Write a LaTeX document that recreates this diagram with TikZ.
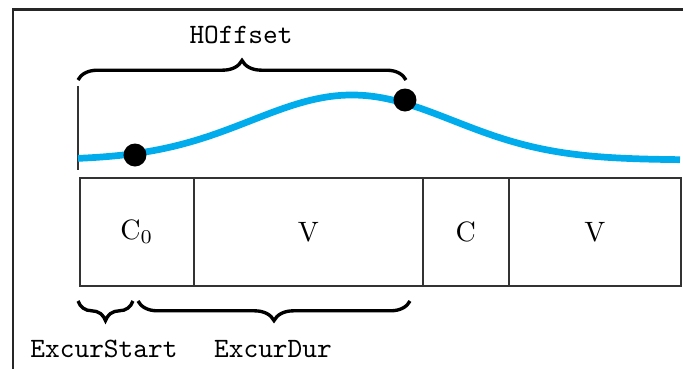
\documentclass[tikz,border=0pt]{standalone}
\usetikzlibrary{decorations.pathreplacing}
\definecolor{wavecol}{RGB}{0,172,236}
\begin{document}
\begin{tikzpicture}[x=0.357pt,y=-0.357pt,
  cell/.style={draw=black!80, line width=0.55pt, minimum height=108*0.357pt, anchor=north west, inner sep=0pt},
  lab/.style={font=\ttfamily, inner sep=0pt},
  brc/.style={decorate, decoration={brace, amplitude=7pt}, line width=1.2pt},
  brcm/.style={decorate, decoration={brace, amplitude=7pt, mirror}, line width=1.2pt},
  dot/.style={circle, fill=black, minimum size=23*0.357pt, inner sep=0pt},
  wave/.style={line width=2.4pt, color=wavecol}]
\useasboundingbox (0,0) rectangle (683,369);
% frame
\coordinate (fa) at (13,369);
\coordinate (fb) at (13,9.5);
\coordinate (fc) at (683,9.5);
\draw[line width=0.8pt, black!85] (fa) -- (fb) -- (fc);
% boxes
\node[cell, minimum width=114*0.357pt] (b1) at (79,177) {C$_0$};
\node[cell, minimum width=229*0.357pt] (b2) at (193,177) {V};
\node[cell, minimum width=86*0.357pt] (b3) at (422,177) {C};
\node[cell, minimum width=172*0.357pt] (b4) at (508,177) {V};
% left marker line
\coordinate (la) at (78,86);
\coordinate (lb) at (78,170);
\draw[line width=0.45pt, black!80] (la) -- (lb);
% wave
\draw[wave] plot[domain=78:680, samples=120] (\x, {160-65*exp(-((\x-352)/101)^2/2)});
\node[dot] (d1) at (135,155) {};
\node[dot] (d2) at (405,100) {};
% top brace
\coordinate (ta) at (78,80);
\coordinate (tb) at (406,80);
\draw[brc] (ta) -- (tb);
\node[lab] (hoff) at (241,35) {HOffset};
% bottom braces
\coordinate (sa) at (78,301);
\coordinate (sb) at (133,301);
\coordinate (ea) at (138,301);
\coordinate (eb) at (410,301);
\draw[brcm] (sa) -- (sb);
\draw[brcm] (ea) -- (eb);
\node[lab] (xs) at (104,349) {ExcurStart};
\node[lab] (xd) at (273,349) {ExcurDur};
\end{tikzpicture}
\end{document}
